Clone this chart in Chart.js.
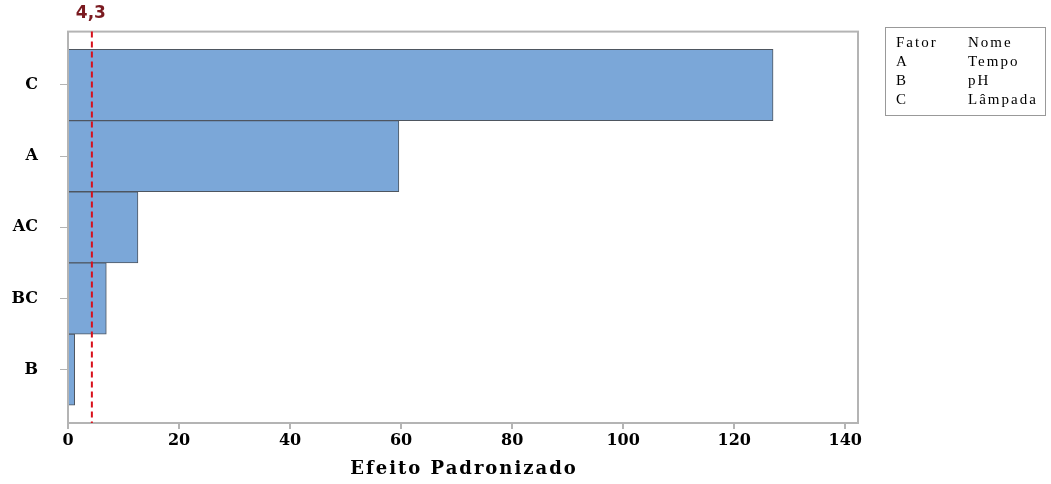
<!DOCTYPE html>
<html>
<head>
<meta charset="utf-8">
<script src="https://cdn.jsdelivr.net/npm/chart.js@4/dist/chart.umd.min.js"></script>
<style>
  body { margin: 0; background: #fff; }
  canvas { display: block; }
</style>
</head>
<body>
<canvas id="pareto" width="1051" height="484"></canvas>
<script>
// categories in plot order (top to bottom) and their standardized effects
const factors = ['C', 'A', 'AC', 'BC', 'B'];
const effects = [127.0, 59.6, 12.6, 6.9, 1.2];
const refValue = 4.3;
const refLabel = '4,3';
const xTicks = [0, 20, 40, 60, 80, 100, 120, 140];
const xTitle = 'Efeito Padronizado';
const legendRows = [['Fator', 'Nome'], ['A', 'Tempo'], ['B', 'pH'], ['C', 'Lâmpada']];

const boldSerif = '"DejaVu Serif", serif';
const serif = '"Liberation Serif", "Times New Roman", serif';

// frame, reference line, axis title and factor table
const extras = {
  id: 'extras',
  afterDraw(chart) {
    const ctx = chart.ctx;
    const area = chart.chartArea;
    const x = chart.scales.x.getPixelForValue(refValue);

    ctx.save();
    ctx.strokeStyle = '#b4b4b4';
    ctx.lineWidth = 2;
    ctx.strokeRect(area.left, area.top, area.right - area.left, area.bottom - area.top);

    ctx.strokeStyle = '#d8101c';
    ctx.lineWidth = 2;
    ctx.setLineDash([6, 4]);
    ctx.beginPath();
    ctx.moveTo(x, area.top);
    ctx.lineTo(x, area.bottom);
    ctx.stroke();
    ctx.setLineDash([]);

    ctx.fillStyle = '#7a1a20';
    ctx.font = 'bold 17px "DejaVu Sans", sans-serif';
    ctx.textAlign = 'center';
    ctx.textBaseline = 'middle';
    ctx.fillText(refLabel, x - 1, 14);

    ctx.fillStyle = '#000';
    ctx.font = 'bold 18px ' + boldSerif;
    ctx.letterSpacing = '2px';
    ctx.fillText(xTitle, (area.left + area.right) / 2 + 1, 469);

    // factor / name table
    ctx.strokeStyle = '#999';
    ctx.lineWidth = 1;
    ctx.strokeRect(885.5, 27.5, 160, 88);
    ctx.font = '15px ' + serif;
    ctx.letterSpacing = '2px';
    ctx.textAlign = 'left';
    legendRows.forEach((row, i) => {
      const y = 43 + i * 19;
      ctx.fillText(row[0], 896, y);
      ctx.fillText(row[1], 968, y);
    });
    ctx.restore();
  }
};

new Chart(document.getElementById('pareto'), {
  type: 'bar',
  data: {
    datasets: [{
      data: effects.map((v, i) => ({ x: v, y: i + 1 })),
      backgroundColor: '#7ba7d8',
      borderColor: '#4e5660',
      borderWidth: 1,
      barPercentage: 1,
      categoryPercentage: 1
    }]
  },
  options: {
    responsive: false,
    animation: false,
    indexAxis: 'y',
    layout: { padding: { top: 27, right: 193, left: 0, bottom: 0 } },
    plugins: {
      legend: { display: false },
      tooltip: { enabled: false }
    },
    scales: {
      x: {
        type: 'linear',
        min: 0,
        max: 142.3,
        afterFit: s => { s.height = 61; },
        afterBuildTicks: s => { s.ticks = xTicks.map(v => ({ value: v })); },
        grid: { drawOnChartArea: false, drawTicks: true, tickLength: 6, color: '#b4b4b4', lineWidth: 2 },
        border: { display: true, color: '#b4b4b4', width: 2 },
        ticks: {
          color: '#000',
          padding: 2,
          font: { family: boldSerif, size: 16, weight: 'bold' }
        }
      },
      y: {
        type: 'linear',
        reverse: true,
        offset: false,
        min: 0.25,
        max: 5.75,
        afterFit: s => { s.width = 68; },
        afterBuildTicks: s => { s.ticks = factors.map((f, i) => ({ value: i + 1 })); },
        grid: { offset: false, drawOnChartArea: false, drawTicks: true, tickLength: 8, color: '#b4b4b4', lineWidth: 1 },
        border: { display: true, color: '#b4b4b4', width: 2 },
        ticks: {
          color: '#000',
          padding: 22,
          font: { family: boldSerif, size: 16, weight: 'bold' },
          callback: v => factors[v - 1]
        }
      }
    }
  },
  plugins: [extras]
});
</script>
</body>
</html>
